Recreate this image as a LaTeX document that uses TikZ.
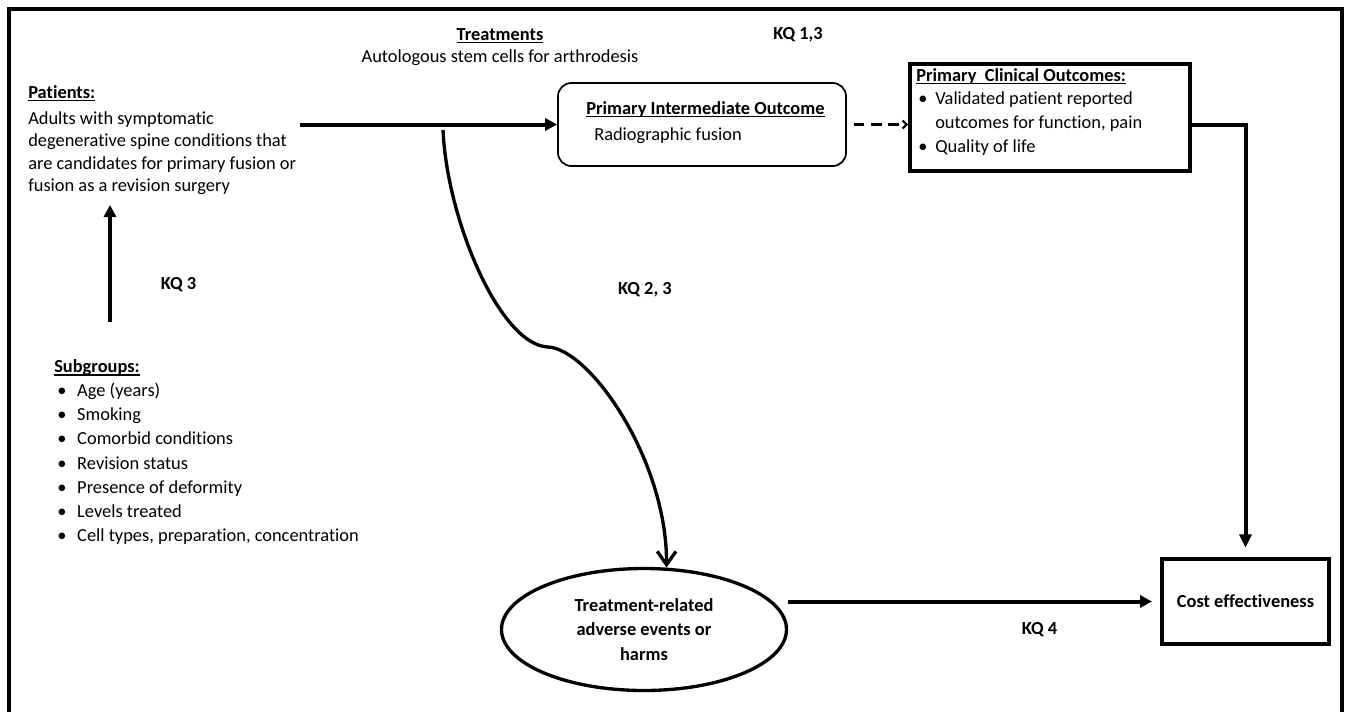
\documentclass[tikz,border=0pt]{standalone}
\usepackage{fontspec}
\setmainfont{Carlito}[Ligatures={NoCommon}]
\usetikzlibrary{arrows.meta,shapes.geometric}
\newcommand\ulbox[1]{\setbox0\hbox{#1}\rlap{\rule[-2.4pt]{\wd0}{0.9pt}}\box0}
\newcommand\bul[1]{\makebox[#1][l]{\textbullet}}
\begin{document}
\begin{tikzpicture}[x=0.75pt,y=-0.75pt,
  txt/.style={inner sep=0pt, align=left, anchor=north west, font=\fontsize{13.8pt}{16.8pt}\selectfont},
  kq/.style={inner sep=0pt, anchor=base, font=\fontsize{13.8pt}{16.8pt}\selectfont\bfseries},
  thickbox/.style={draw, line width=3pt, inner sep=0pt},
  arr/.style={line width=3pt, -{Triangle[length=9pt,width=9pt]}},
  curvearr/.style={line width=2.5pt, -{Straight Barb[length=10pt,width=14pt,line width=2.5pt]}},
  dasharr/.style={line width=2.2pt, dash pattern=on 8pt off 5pt, -{Straight Barb[length=3pt,width=6pt,line width=1.5pt]}},
]
\clip (0,0) rectangle (1349,711);
\fill[white] (0,0) rectangle (1349,711);
% outer frame
\draw[line width=2.5pt] (9,9) rectangle (1342,760);

% texts
\node[txt] (patients) at (28,82.3) {\strut\ulbox{\textbf{Patients:}}\\[2.7pt]
  Adults with symptomatic\\
  degenerative spine conditions that\\
  are candidates for primary fusion or\\
  fusion as a revision surgery};

\node[txt, anchor=north, align=center] (treat) at (500,24.3)
  {\strut\ulbox{\textbf{Treatments}}\\ Autologous stem cells for arthrodesis};

\node[kq] (kq13) at (798,39) {KQ 1,3};
\node[kq] (kq3) at (178.5,289) {KQ 3};
\node[kq] (kq23) at (645,294) {KQ 2, 3};
\node[kq] (kq4) at (1039.5,634) {KQ 4};

% intermediate outcome box
\node[draw, line width=1.3pt, rounded corners=10pt, minimum width=216pt, minimum height=62.25pt, inner sep=0pt] (inter) at (702,124.5) {};
\node[txt] (intertxt) at (586,98.3) {\strut\ulbox{\textbf{Primary Intermediate Outcome}}\\[2.7pt]\hspace*{6pt}Radiographic fusion};

% clinical outcomes box
\node[thickbox, minimum width=210pt, minimum height=80.25pt] (clin) at (1050,117.5) {};
\node[txt, font=\fontsize{13.8pt}{17.7pt}\selectfont] (clintxt) at (916,64.5)
  {\strut\ulbox{\textbf{Primary\ \ Clinical Outcomes:}}\\
   \hspace*{1.5pt}\bul{12.75pt}Validated patient reported\\
   \hspace*{14.25pt}outcomes for function, pain\\
   \hspace*{1.5pt}\bul{12.75pt}Quality of life};

% subgroups
\node[txt, font=\fontsize{13.8pt}{18.15pt}\selectfont] (sub) at (54,355.1)
  {\strut\ulbox{\textbf{Subgroups:}}\\
   \hspace*{2.25pt}\bul{15pt}Age (years)\\
   \hspace*{2.25pt}\bul{15pt}Smoking\\
   \hspace*{2.25pt}\bul{15pt}Comorbid conditions\\
   \hspace*{2.25pt}\bul{15pt}Revision status\\
   \hspace*{2.25pt}\bul{15pt}Presence of deformity\\
   \hspace*{2.25pt}\bul{15pt}Levels treated\\
   \hspace*{2.25pt}\bul{15pt}Cell types, preparation, concentration};

% adverse events ellipse
\node[ellipse, draw, line width=2.5pt, minimum width=213.75pt, minimum height=91.5pt, inner sep=0pt, align=center,
  font=\fontsize{13.8pt}{18.4pt}\selectfont\bfseries] (adverse) at (644,629.5)
  {Treatment-related\\ adverse events or\\ harms};

% cost effectiveness
\node[thickbox, minimum width=125.25pt, minimum height=63.75pt, font=\fontsize{13.8pt}{16.8pt}\selectfont\bfseries] (cost) at (1245.5,601.5) {Cost effectiveness};

% connectors
\coordinate (pstart) at (300,124.5);
\draw[arr] (pstart) -- (inter.west);

\coordinate (cstart) at (443,130);
\coordinate (cmid) at (548,347);
\draw[curvearr] (cstart) .. controls (447,220) and (500,345) .. (cmid)
   .. controls (590,349) and (667,460) .. (adverse.70);

\coordinate (vbot) at (110,322);
\coordinate (vtop) at (110,205);
\draw[arr] (vbot) -- (vtop);

\draw[dasharr, shorten <=5pt] (inter.east) -- (inter.east -| clin.west);

\draw[line width=3pt, -{Triangle[length=10pt,width=9pt]}, shorten >=7pt] (clin.east |- inter.east) -| (cost.north);

\draw[arr, shorten >=6pt] (adverse.east |- cost.west) -- (cost.west);
\end{tikzpicture}
\end{document}
